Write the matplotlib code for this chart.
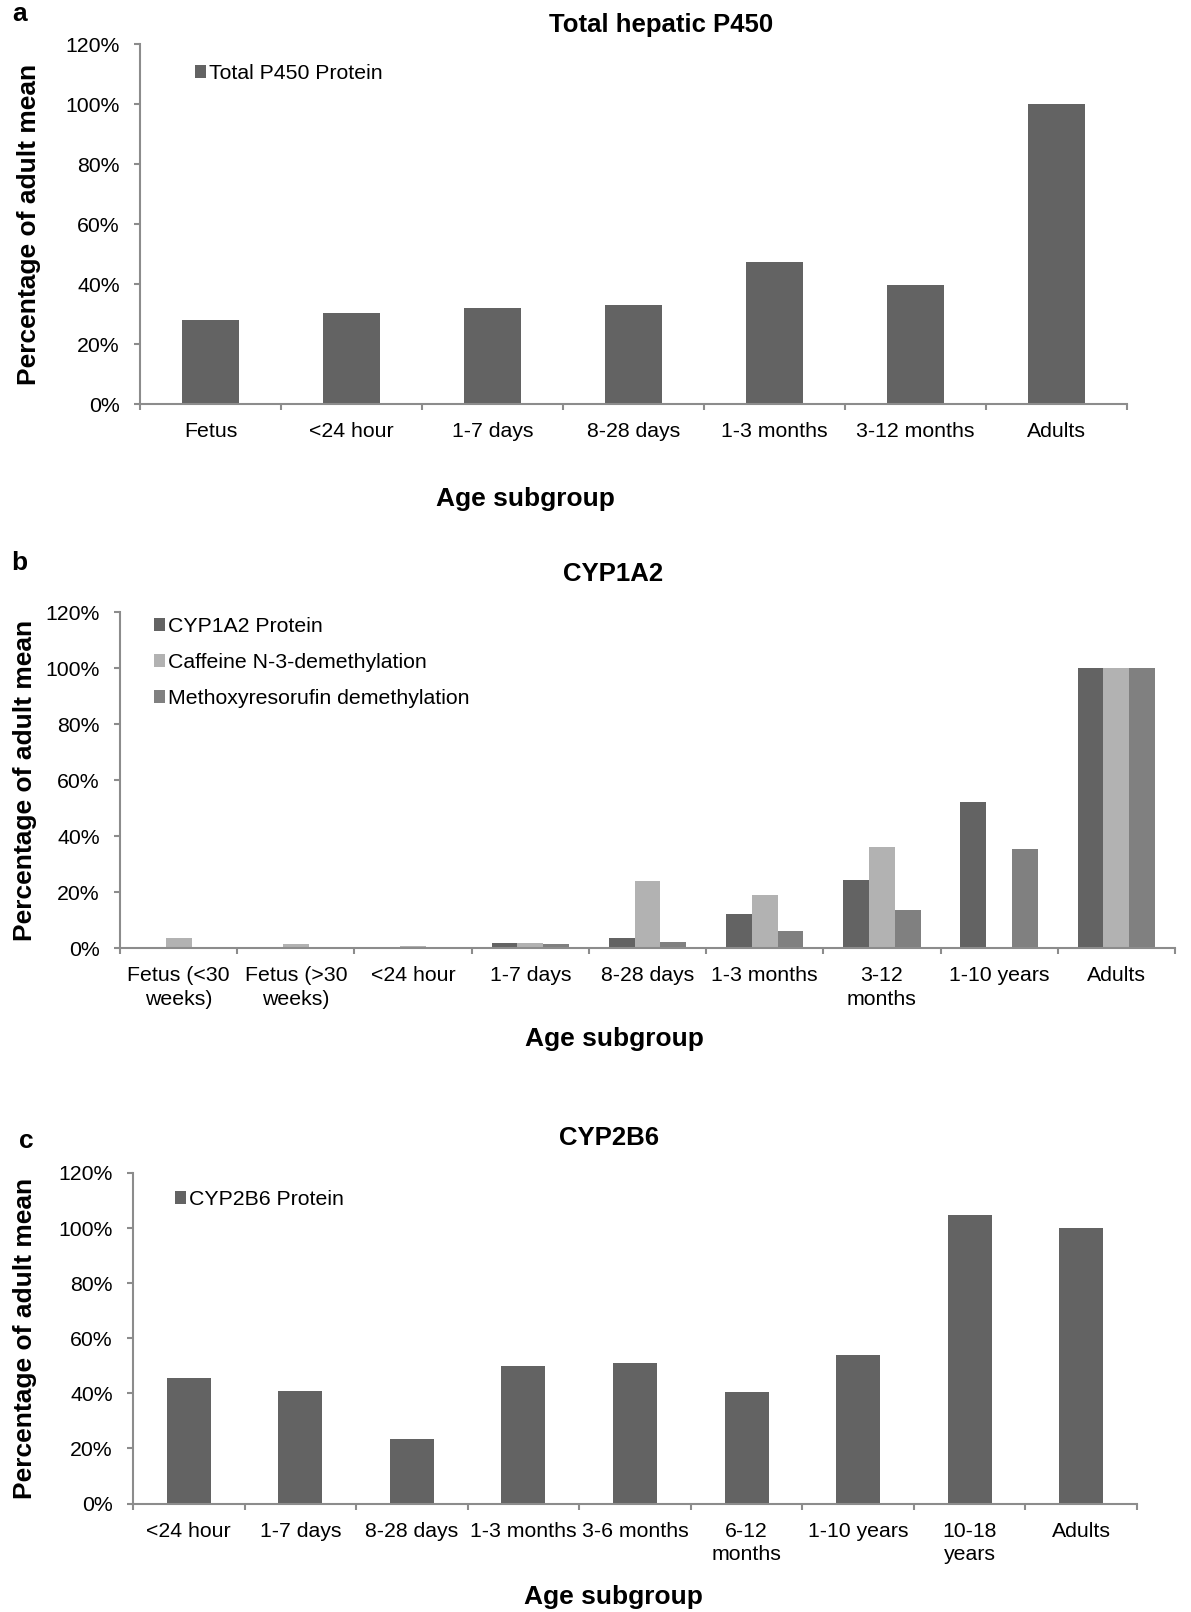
import numpy as np
import matplotlib
matplotlib.use('Agg')
import matplotlib.pyplot as plt
from matplotlib.ticker import FuncFormatter

plt.rcParams['font.family'] = ['Liberation Sans', 'DejaVu Sans']
plt.rcParams['text.antialiased'] = True

# Panel a - total hepatic P450
ages_a = ['Fetus', '<24 hour', '1-7 days', '8-28 days', '1-3 months', '3-12 months', 'Adults']
total_p450 = [28.0, 30.3, 31.9, 33.1, 47.4, 39.6, 100.0]

# Panel b - CYP1A2
ages_b = ['Fetus (<30\nweeks)', 'Fetus (>30\nweeks)', '<24 hour', '1-7 days', '8-28 days',
          '1-3 months', '3-12\nmonths', '1-10 years', 'Adults']
cyp1a2_protein = [np.nan, np.nan, 0.5, 1.9, 3.5, 12.1, 24.4, 52.2, 100.0]
caffeine_demeth = [3.7, 1.3, 0.8, 1.8, 24.0, 19.0, 36.0, np.nan, 100.0]
methoxy_demeth = [np.nan, np.nan, 0.5, 1.5, 2.3, 6.0, 13.6, 35.4, 100.0]

# Panel c - CYP2B6
ages_c = ['<24 hour', '1-7 days', '8-28 days', '1-3 months', '3-6 months', '6-12\nmonths',
          '1-10 years', '10-18\nyears', 'Adults']
cyp2b6_protein = [45.4, 40.8, 23.4, 50.0, 51.0, 40.6, 54.0, 104.6, 100.0]

DARK = '#636363'
LIGHT = '#b2b2b2'
MEDIUM = '#808080'
AXIS_GREY = '#8c8c8c'

W, H = 1191, 1612
fig = plt.figure(figsize=(W / 100, H / 100), dpi=100)


def fx(x):
    return x / W


def fy(y):
    return 1 - y / H


def make_axes(left, top, right, bottom):
    return fig.add_axes([fx(left), fy(bottom), (right - left) / W, (bottom - top) / H])


def style_axes(ax, labels):
    n = len(labels)
    ax.set_xlim(0, n)
    ax.set_ylim(0, 120)
    ax.set_yticks(range(0, 121, 20))
    ax.yaxis.set_major_formatter(FuncFormatter(lambda v, pos: f'{v:.0f}%'))
    ax.set_xticks(range(n + 1))
    ax.set_xticklabels([])
    ax.set_xticks(np.arange(n) + 0.5, minor=True)
    ax.set_xticklabels(labels, minor=True, linespacing=1.3)
    for side in ['top', 'right']:
        ax.spines[side].set_visible(False)
    for side in ['left', 'bottom']:
        ax.spines[side].set_color(AXIS_GREY)
        ax.spines[side].set_linewidth(1.5)
    ax.tick_params(axis='both', which='major', color=AXIS_GREY, width=1.5, length=4.5,
                   labelsize=15.3, pad=10)
    ax.tick_params(axis='x', which='minor', length=0, labelsize=15.3, pad=13)


def add_legend(ax, x, y):
    ax.legend(loc='upper left', bbox_to_anchor=(fx(x), fy(y)), bbox_transform=fig.transFigure,
              frameon=False, fontsize=15.3, handlelength=0.5, handleheight=0.5,
              handletextpad=0.15, labelspacing=0.8, borderpad=0, borderaxespad=0)


def panel_text(letter, lx, ly, title, tx, ty, ylab_x, ylab_y, xlab_x, xlab_y):
    fig.text(fx(lx), fy(ly), letter, fontsize=19, fontweight='bold', ha='center', va='center')
    fig.text(fx(tx), fy(ty), title, fontsize=18.5, fontweight='bold', ha='center', va='center')
    fig.text(fx(ylab_x), fy(ylab_y), 'Percentage of adult mean', fontsize=19, fontweight='bold',
             rotation=90, ha='center', va='center')
    fig.text(fx(xlab_x), fy(xlab_y), 'Age subgroup', fontsize=19, fontweight='bold',
             ha='center', va='center')


# a
ax_a = make_axes(140, 44, 1127, 404)
xa = np.arange(len(ages_a)) + 0.5
ax_a.bar(xa, total_p450, width=0.40, color=DARK, label='Total P450 Protein')
style_axes(ax_a, ages_a)
add_legend(ax_a, 195, 64)
panel_text('a', 19.5, 14, 'Total hepatic P450', 661, 25, 29, 224, 525, 499)

# b
ax_b = make_axes(120, 612, 1175, 948)
xb = np.arange(len(ages_b)) + 0.5
bw = 0.22
ax_b.bar(xb - bw, cyp1a2_protein, width=bw, color=DARK, label='CYP1A2 Protein')
ax_b.bar(xb, caffeine_demeth, width=bw, color=LIGHT, label='Caffeine N-3-demethylation')
ax_b.bar(xb + bw, methoxy_demeth, width=bw, color=MEDIUM, label='Methoxyresorufin demethylation')
style_axes(ax_b, ages_b)
add_legend(ax_b, 154, 617)
panel_text('b', 19.5, 563, 'CYP1A2', 613, 574, 25, 780, 614, 1039)

# c
ax_c = make_axes(133, 1173, 1137, 1503.5)
xc = np.arange(len(ages_c)) + 0.5
ax_c.bar(xc, cyp2b6_protein, width=0.395, color=DARK, label='CYP2B6 Protein')
style_axes(ax_c, ages_c)
add_legend(ax_c, 175, 1190)
panel_text('c', 26, 1141, 'CYP2B6', 609, 1138, 25, 1338, 613, 1597)

fig.savefig('out.png', dpi=100, facecolor='white')
